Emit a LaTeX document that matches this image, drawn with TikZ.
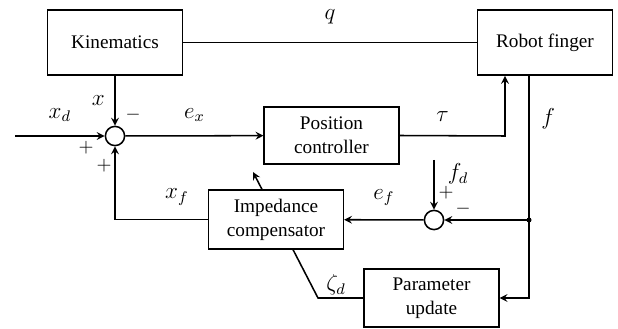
\documentclass[tikz,border=0pt]{standalone}
\usepackage{amsmath,amssymb}
\usepackage{fontspec}
\setmainfont{Liberation Serif}
\usepackage{tikz}
\usetikzlibrary{arrows,positioning,calc}

\begin{document}
\begin{tikzpicture}[>=stealth, x=0.52pt, y=-0.52pt, line width=0.8pt]
    \tikzset{
        block/.style={draw, rectangle, minimum width=70pt, inner sep=0pt, align=center, font=\rmfamily\fontsize{10}{12.5}\selectfont},
        sum/.style={draw, circle, minimum size=10pt, inner sep=0pt},
        line/.style={draw, ->, >=stealth},
        lbl/.style={font=\fontsize{11.5}{13}\selectfont, inner sep=0pt},
        sgn/.style={font=\fontsize{10}{12}\selectfont, inner sep=0pt}
    }
    \useasboundingbox (0,0) rectangle (618,329);

    \node [block, minimum height=34pt] (kin) at (115,42.5) {Kinematics};
    \node [block, minimum height=34pt] (robot) at (545,42.5) {Robot finger};
    \node [sum] (sum) at (115,136) {};
    \node [block, minimum height=29.5pt] (pc) at (331.5,135.5) {Position\\controller};
    \node [sum] (sum2) at (434,220) {};
    \node [block, minimum height=30.5pt] (imp) at (276,219.5) {Impedance\\compensator};
    \node [block, minimum height=30pt] (pu) at (431.5,298) {Parameter\\update};

    \coordinate (in) at (15,136);
    \coordinate (tau) at (505,136);
    \coordinate (fout) at (529,75);
    \coordinate (split) at (529,220);
    \coordinate (fbot) at (529,298);
    \coordinate (fd) at (434,160);
    \coordinate (tune) at (253,172);
    \coordinate (zeta) at (318,298);

    % position loop
    \draw (kin) -- node[lbl, above=9pt] {$q$} (robot);
    \path [line] (kin) -- node[lbl, left=5pt] {$x$} (sum);
    \path [line] (in) -- node[lbl, above=7pt] {$x_d$} (sum);
    \path [line] (sum) -- node[lbl, above=7pt] {$e_x$} (pc);
    \path [line] (pc.east) -- node[lbl, above=7pt, xshift=-5pt] {$\tau$} (tau) -- (robot.south -| tau);
    \node [sgn] at (133,115) {$-$};
    \node [sgn] at (86,148) {$+$};
    \node [sgn] at (104,166) {$+$};

    % force loop
    \draw (robot.south -| fout) -- node[lbl, right=6pt, pos=0.3] {$f$} (split);
    \fill (split) circle (2.5);
    \path [line] (split) -- (fbot) -- (pu.east);
    \path [line] (split) -- (sum2);
    \path [line] (fd) -- (sum2);
    \node [lbl] at (458,174) {$f_d$};
    \node [sgn] at (446,193) {$+$};
    \node [sgn] at (463,209) {$-$};
    \path [line] (sum2) -- node[lbl, above=7pt] {$e_f$} (imp);
    \path [line] (imp.west) -- node[lbl, above=7pt, xshift=8pt] {$x_f$} (imp.west -| sum) -- (sum);
    \path [line] (imp.north -| 262,0) -- (tune);
    \draw (imp.south -| 293,0) -- (zeta) -- (pu.west);
    \node [lbl] at (336,285) {$\zeta_d$};
\end{tikzpicture}
\end{document}
